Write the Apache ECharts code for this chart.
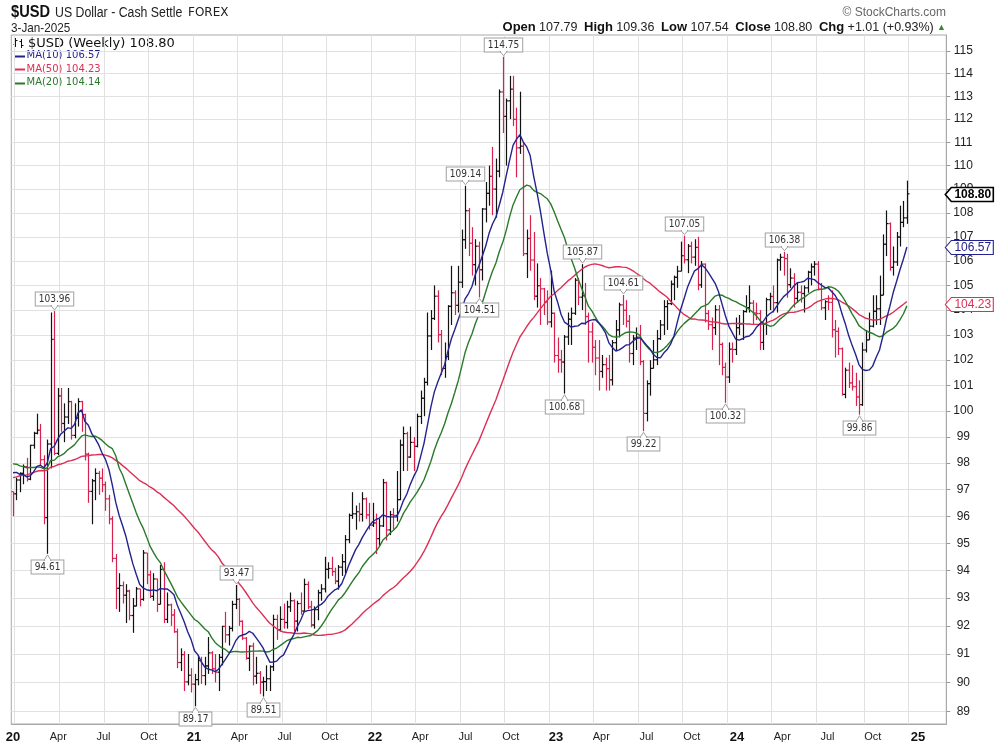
<!DOCTYPE html>
<html>
<head>
<meta charset="utf-8">
<title>$USD Weekly</title>
<script src="https://cdn.jsdelivr.net/npm/echarts@6.0.0/dist/echarts.min.js"></script>
<style>
html,body{margin:0;padding:0;background:#ffffff;}
#chart{width:1000px;height:752px;}
</style>
</head>
<body>
<div id="chart"></div>
<script>
// ---------------- DATA ----------------
const firstWeekEnd = Date.UTC(2020, 0, 3);   // Friday of the first weekly bar
const futureSlots = 11;                        // empty weekly slots to the right of the last bar

// weekly closes of 2019 (needed only to warm up the moving averages at the left edge)
const priorCloses2019 = [95.82,95.58,96.63,96.91,96.48,96.51,97.31,96.59,96.63,97.28,97.37,96.95,97.40,98.02,97.51,97.34,98.00,97.61,97.75,96.53,97.57,96.22,96.13,97.29,96.80,97.10,97.93,98.05,97.51,98.15,97.66,98.87,98.40,98.26,98.53,99.13,98.80,98.31,97.28,97.83,97.24,98.36,97.97,98.25,98.27,97.67,97.18,97.66,96.92];

const weekHigh = [
 96.9,97.45,97.65,97.95,98.2,98.7,99.2,99.9,99.5,98.3,98.9,103.9,103.96,100.9,100.9,100.3,100.9,100.4,100.3,100.5,100.4,99.9,98.4,97.4,97.8,97.7,97.8,97.3,96.8,96.0,94.6,93.9,93.6,93.5,93.3,93.0,93.4,93.3,94.75,94.6,94.0,93.9,93.7,94.2,94.3,93.2,92.8,92.6,91.9,91.2,91.1,91.0,90.5,
 90.3,90.95,90.9,90.9,91.6,91.1,91.0,91.0,92.0,92.5,92.0,92.9,93.47,93.0,92.2,91.6,91.3,91.4,90.9,90.4,90.2,90.6,90.6,92.4,92.4,92.7,92.8,92.9,93.2,92.95,92.9,93.2,93.7,93.6,92.9,92.7,93.3,93.5,94.5,94.3,94.5,94.1,94.2,94.6,95.3,96.1,96.9,96.4,96.5,96.9,96.7,96.5,
 96.5,96.1,95.9,97.4,97.3,96.2,96.3,97.7,98.9,99.4,99.2,99.4,99.0,99.9,100.8,101.3,103.9,104.0,105.0,104.8,103.2,102.7,104.2,105.8,104.8,105.8,107.3,109.14,108.2,107.4,106.9,106.8,108.2,109.3,110.0,110.8,110.3,113.3,114.75,112.9,113.9,113.9,112.5,113.2,111.0,107.3,107.9,107.2,105.9,105.3,104.9,104.8,
 105.6,103.9,102.9,102.4,103.0,103.9,104.1,105.3,105.3,105.87,105.1,103.9,103.5,102.8,102.8,102.2,102.1,102.2,102.8,103.6,104.3,104.61,104.4,103.8,103.0,103.3,103.4,102.0,101.2,102.0,102.8,103.2,103.6,104.4,104.4,105.2,105.4,105.8,106.8,107.05,106.7,106.8,106.9,107.0,106.0,105.9,104.0,103.7,104.2,104.2,102.7,101.9,
 102.7,102.7,103.7,103.8,104.0,104.6,105.0,104.4,104.3,104.0,103.5,104.5,104.7,105.0,106.1,106.3,106.38,106.3,105.7,105.5,105.1,105.0,105.0,105.6,105.9,106.0,106.0,105.1,104.4,104.6,104.8,103.6,103.3,102.5,101.7,101.9,101.8,101.5,101.2,102.7,103.2,103.9,104.6,104.6,105.4,107.1,108.1,107.6,106.6,107.2,108.3,108.5,
 109.36
];
const weekLow = [
 96.0,96.6,96.9,97.2,97.3,97.35,98.55,99.1,97.9,95.7,94.61,97.8,98.3,98.3,99.2,98.8,99.5,98.9,98.95,99.4,99.2,98.1,96.5,95.7,96.6,96.8,96.9,96.2,95.7,94.3,92.6,92.5,92.8,92.1,92.2,91.75,92.7,92.7,92.9,93.5,93.0,92.9,92.5,92.8,92.1,92.1,92.0,91.75,90.5,90.4,89.7,89.9,89.65,
 89.17,89.9,89.95,89.9,90.3,90.3,90.0,89.7,90.6,91.4,91.3,91.8,92.6,92.0,91.5,90.8,90.4,89.9,89.95,89.6,89.51,89.7,89.7,90.4,91.5,91.8,91.9,91.9,92.5,91.8,91.8,92.4,92.5,92.6,91.95,91.9,92.2,92.9,93.2,93.7,93.8,93.5,93.3,93.8,93.9,95.0,95.9,95.5,95.8,95.8,95.9,95.5,
 95.6,94.6,94.9,95.6,95.1,95.3,95.5,95.8,96.6,97.7,97.7,98.2,97.7,98.6,99.5,99.8,101.0,102.4,103.6,102.7,101.4,101.3,102.0,103.4,103.8,103.9,104.9,106.5,106.2,105.4,105.0,104.51,105.2,107.6,108.3,107.9,107.8,109.5,111.4,110.0,112.0,111.7,109.5,110.5,106.2,105.3,105.6,104.4,104.1,103.4,103.8,103.4,
 103.3,101.9,101.5,101.5,100.68,102.6,102.6,103.8,104.2,104.0,103.4,101.9,101.9,101.4,100.8,101.3,100.8,100.8,101.0,102.4,102.9,103.4,103.3,101.9,101.8,102.4,101.8,99.22,99.6,100.6,101.7,101.8,102.8,103.0,103.2,104.2,104.4,104.9,105.6,105.9,105.5,105.9,105.8,104.8,104.9,103.5,103.2,102.4,103.0,101.8,101.4,100.32,
 101.1,101.9,102.2,103.0,102.8,103.9,103.9,103.4,103.6,102.4,102.4,103.0,104.0,103.9,103.9,105.6,105.4,104.5,104.9,104.1,104.3,104.3,103.9,104.7,105.0,105.4,104.8,104.0,103.6,104.0,102.9,102.1,102.2,100.6,100.5,100.9,100.8,100.2,99.86,100.2,102.3,102.8,103.3,103.4,103.4,104.9,106.2,105.6,105.4,105.8,106.6,107.4,
 107.54
];
const weekClose = [
 96.84,97.36,97.61,97.87,97.39,98.68,99.14,99.26,98.13,95.95,98.73,102.82,98.37,100.59,99.52,99.77,100.37,99.06,99.73,100.37,99.86,98.34,96.93,97.33,97.61,97.43,97.18,96.65,95.90,94.44,93.35,93.45,93.10,93.25,92.37,92.71,93.33,92.95,94.64,93.84,93.06,93.69,92.77,94.04,92.23,92.75,92.39,91.79,90.70,90.98,90.02,90.25,89.94,
 90.10,90.77,90.24,90.58,91.04,90.48,90.36,90.88,91.98,91.68,91.91,92.77,92.95,92.16,91.56,90.85,91.28,90.22,90.32,90.01,90.03,90.13,90.55,92.23,91.86,92.23,92.12,92.68,92.90,92.17,92.80,92.53,93.49,92.68,92.03,92.58,93.19,93.33,94.04,94.07,93.96,93.61,94.12,94.32,95.13,96.03,96.09,96.17,96.07,96.65,96.05,95.67,
 95.75,95.17,95.64,97.26,95.49,96.06,96.03,96.62,98.69,99.13,98.23,98.79,98.64,99.79,100.50,101.12,102.96,103.66,104.56,103.01,101.67,102.14,104.15,104.70,104.19,105.13,106.88,108.09,106.73,105.85,106.61,105.64,108.16,108.82,109.54,109.00,109.76,113.19,112.12,112.80,113.31,111.99,110.76,110.83,106.30,106.93,106.04,104.56,104.99,104.86,104.33,103.52,
 103.87,102.18,102.01,101.92,102.92,103.63,103.87,105.21,104.52,104.58,103.74,103.12,102.51,102.08,101.55,101.82,101.66,101.22,102.69,103.20,104.21,103.99,103.55,102.26,102.87,102.91,101.94,99.91,101.07,101.67,102.01,102.85,103.40,104.14,104.26,105.05,105.33,105.58,106.22,106.05,106.61,106.16,106.56,105.02,105.87,103.86,103.41,103.29,104.01,102.62,101.71,101.33,
 102.43,102.42,103.29,103.44,103.94,104.10,104.28,103.88,103.86,102.70,103.44,104.42,104.55,104.30,106.04,106.15,106.10,105.03,105.30,104.47,104.72,104.67,104.90,105.54,105.76,105.87,104.85,104.09,104.34,104.31,103.21,103.14,102.45,100.65,101.60,101.10,100.95,100.55,100.25,102.40,102.80,103.35,103.95,104.05,104.60,106.69,107.55,105.74,105.96,106.99,107.60,107.79,
 108.80
];

// labelled highs / lows (bar index, value, side)
const annotations = [
  {i: 12,  v: 103.96, side: 'up'},
  {i: 10,  v: 94.61,  side: 'down'},
  {i: 65,  v: 93.47,  side: 'up'},
  {i: 53,  v: 89.17,  side: 'down'},
  {i: 73,  v: 89.51,  side: 'down'},
  {i: 143, v: 114.75, side: 'up'},
  {i: 132, v: 109.14, side: 'up'},
  {i: 136, v: 104.51, side: 'down'},
  {i: 166, v: 105.87, side: 'up'},
  {i: 161, v: 100.68, side: 'down'},
  {i: 178, v: 104.61, side: 'up'},
  {i: 184, v: 99.22,  side: 'down'},
  {i: 196, v: 107.05, side: 'up'},
  {i: 208, v: 100.32, side: 'down'},
  {i: 225, v: 106.38, side: 'up'},
  {i: 247, v: 99.86,  side: 'down'}
];

// last-value tags on the price axis
const lastTagValues = [108.80, 106.57, 104.23];
const lastTagNames  = ['price', 'ma10', 'ma50'];

// legend values shown in the top-left box
const legendPrice = '108.80';
const legendMA = [
  {label: 'MA(10)', value: '106.57', key: 'ma10'},
  {label: 'MA(50)', value: '104.23', key: 'ma50'},
  {label: 'MA(20)', value: '104.14', key: 'ma20'}
];

const yTicks = [89,90,91,92,93,94,95,96,97,98,99,100,101,102,103,104,105,106,107,108,109,110,111,112,113,114,115];
const quarterLabels = ['20','Apr','Jul','Oct','21','Apr','Jul','Oct','22','Apr','Jul','Oct','23','Apr','Jul','Oct','24','Apr','Jul','Oct','25'];

// ---------------- STYLE ----------------
const COLORS = {
  up: '#111111', down: '#d9214f',
  ma10: '#23238e', ma50: '#dc2f55', ma20: '#2a7a2a',
  grid: '#e1e1e1', border: '#a9a9a9', text: '#222222'
};
const SANS = '"Liberation Sans",Arial,sans-serif';
const NOTE_FONT = '10px "DejaVu Sans Condensed","DejaVu Sans",sans-serif';

// ---------------- DERIVED ----------------
const DAY = 86400000;
const nBars = weekClose.length;
const categories = [];
for (let i = 0; i < nBars + futureSlots; i++) {
  categories.push(new Date(firstWeekEnd + i * 7 * DAY).toISOString().slice(0, 10));
}
function mondayMonth(i) { return new Date(firstWeekEnd + i * 7 * DAY - 4 * DAY).getUTCMonth(); }
function isQuarterStart(i) {
  if (i <= 0) return false;
  const m = mondayMonth(i), pm = mondayMonth(i - 1);
  return m !== pm && m % 3 === 0;
}

// weekly open equals the previous weekly close (forex: Open 107.79 = prior close)
const lastPrior = priorCloses2019[priorCloses2019.length - 1];
const ohlc = weekClose.map((c, i) => {
  const o = i === 0 ? lastPrior : weekClose[i - 1];
  const h = Math.max(weekHigh[i], o, c);
  const l = Math.min(weekLow[i], o, c);
  return [i, o, h, l, c, c >= o ? 1 : 0];
});

function sma(n) {
  const all = priorCloses2019.concat(weekClose);
  const off = priorCloses2019.length;
  return weekClose.map((_, i) => {
    const end = off + i, start = end - n + 1;
    if (start < 0) return null;
    let s = 0;
    for (let k = start; k <= end; k++) s += all[k];
    return +(s / n).toFixed(3);
  });
}
const ma10 = sma(10), ma20 = sma(20), ma50 = sma(50);

// ---------------- RENDERERS ----------------
function renderBar(params, api) {
  const i = api.value(0);
  const pO = api.coord([i, api.value(1)]);
  const pH = api.coord([i, api.value(2)]);
  const pL = api.coord([i, api.value(3)]);
  const pC = api.coord([i, api.value(4)]);
  const color = api.value(5) ? COLORS.up : COLORS.down;
  const x = Math.round(pH[0]) + 0.5;
  const st = {stroke: color, lineWidth: 1.2};
  return {
    type: 'group',
    children: [
      {type: 'line', shape: {x1: x, y1: pH[1], x2: x, y2: pL[1]}, style: st},
      {type: 'line', shape: {x1: x - 2, y1: pO[1], x2: x, y2: pO[1]}, style: st},
      {type: 'line', shape: {x1: x, y1: pC[1], x2: x + 2, y2: pC[1]}, style: st}
    ]
  };
}

function renderNote(params, api) {
  const a = annotations[params.dataIndex];
  const p = api.coord([a.i, a.v]);
  const x = Math.round(p[0]) + 0.5;
  const gap = 6, h = 13;
  const up = a.side === 'up';
  const edge = up ? Math.round(p[1] - gap) + 0.5 : Math.round(p[1] + gap) + 0.5;
  const cy = up ? edge - h / 2 : edge + h / 2;
  const tip = up ? p[1] - 1 : p[1] + 1;
  return {
    type: 'group',
    children: [
      {type: 'text', x: x, y: cy, style: {
        text: a.v.toFixed(2), font: NOTE_FONT, fill: '#333',
        align: 'center', verticalAlign: 'middle',
        backgroundColor: '#ffffff', borderColor: '#a0a0a0', borderWidth: 1,
        padding: [2, 3, 1, 3]
      }},
      {type: 'polygon', shape: {points: [[x - 3.5, edge], [x, tip], [x + 3.5, edge]]},
        style: {fill: '#ffffff', stroke: '#a0a0a0', lineWidth: 1}},
      {type: 'line', shape: {x1: x - 2.5, y1: edge, x2: x + 2.5, y2: edge},
        style: {stroke: '#ffffff', lineWidth: 1.5}}
    ]
  };
}

function renderTag(params, api) {
  const v = lastTagValues[params.dataIndex];
  const name = lastTagNames[params.dataIndex];
  const p = api.coord([nBars - 1, v]);
  const ax = params.coordSys.x + params.coordSys.width;
  const y = Math.round(p[1]) + 0.5;
  const color = name === 'price' ? '#000000' : COLORS[name];
  const bold = name === 'price';
  const x0 = ax - 1, x1 = ax + 5, x2 = ax + 47, hh = 7;
  return {
    type: 'group',
    children: [
      {type: 'polygon', shape: {points: [[x0, y], [x1, y - hh], [x2, y - hh], [x2, y + hh], [x1, y + hh]]},
        style: {fill: '#ffffff', stroke: color, lineWidth: bold ? 1.6 : 1.1}},
      {type: 'text', x: (x1 + x2) / 2 + 0.5, y: y + 0.5, style: {
        text: v.toFixed(2), fill: color,
        font: (bold ? 'bold ' : '') + '12px ' + SANS,
        align: 'center', verticalAlign: 'middle'
      }}
    ]
  };
}

// ---------------- CHART ----------------
const chart = echarts.init(document.getElementById('chart'), null, {renderer: 'canvas'});

const legendChildren = [
  // small OHLC glyph
  {type: 'line', shape: {x1: 15.5, y1: 38, x2: 15.5, y2: 47}, style: {stroke: '#111', lineWidth: 1}},
  {type: 'line', shape: {x1: 13.5, y1: 44.5, x2: 15.5, y2: 44.5}, style: {stroke: '#111', lineWidth: 1}},
  {type: 'line', shape: {x1: 15.5, y1: 40.5, x2: 17.5, y2: 40.5}, style: {stroke: '#111', lineWidth: 1}},
  {type: 'line', shape: {x1: 21.5, y1: 39, x2: 21.5, y2: 48}, style: {stroke: '#111', lineWidth: 1}},
  {type: 'line', shape: {x1: 19.5, y1: 41.5, x2: 21.5, y2: 41.5}, style: {stroke: '#111', lineWidth: 1}},
  {type: 'line', shape: {x1: 21.5, y1: 45.5, x2: 23.5, y2: 45.5}, style: {stroke: '#111', lineWidth: 1}},
  {type: 'text', x: 28, y: 43.5, style: {text: '$USD (Weekly) ' + legendPrice, font: '13px "DejaVu Sans",sans-serif', fill: '#111', verticalAlign: 'middle'}}
];
legendMA.forEach((m, k) => {
  const y = 55.5 + k * 13.5;
  legendChildren.push({type: 'line', shape: {x1: 14, y1: Math.round(y) + 0.5, x2: 25, y2: Math.round(y) + 0.5}, style: {stroke: COLORS[m.key], lineWidth: 2}});
  legendChildren.push({type: 'text', x: 26.5, y: y, style: {text: m.label + ' ' + m.value, font: '10px "DejaVu Sans",sans-serif', fill: COLORS[m.key], verticalAlign: 'middle'}});
});

const option = {
  animation: false,
  backgroundColor: '#ffffff',
  grid: [
    {left: 11.3, right: 53.7, top: 35, bottom: 28, show: true, borderColor: COLORS.border, borderWidth: 1, backgroundColor: 'transparent'},
    {left: 13, right: 82, top: 35, bottom: 28, show: false}
  ],
  xAxis: [
    {
      type: 'category', gridIndex: 0, data: categories, boundaryGap: true,
      axisLine: {show: true, lineStyle: {color: COLORS.border}},
      axisTick: {show: false},
      axisLabel: {show: false},
      splitLine: {show: true, interval: (idx) => isQuarterStart(idx), lineStyle: {color: COLORS.grid, width: 1}}
    },
    {
      type: 'value', gridIndex: 1, min: 0, max: 20, interval: 1, position: 'bottom',
      axisLine: {show: false}, axisTick: {show: false}, splitLine: {show: false},
      axisLabel: {
        show: true, margin: 7, color: COLORS.text, fontSize: 11, fontFamily: SANS,
        formatter: (v) => {
          const s = quarterLabels[Math.round(v)];
          if (s === undefined) return '';
          return /^\d/.test(s) ? '{yr|' + s + '}' : s;
        },
        rich: {yr: {fontWeight: 'bold', fontSize: 13, fontFamily: SANS, color: '#111'}}
      }
    }
  ],
  yAxis: [
    {
      type: 'log', logBase: 10, gridIndex: 0, position: 'right', min: 88.56, max: 115.72,
      axisLine: {show: true, lineStyle: {color: COLORS.border}},
      axisTick: {show: true, length: 4, lineStyle: {color: '#9a9a9a'}, customValues: yTicks},
      axisLabel: {show: true, customValues: yTicks, margin: 17, align: 'center', color: COLORS.text, fontSize: 12, fontFamily: SANS,
        formatter: (v) => String(Math.round(v))},
      splitLine: {show: true, lineStyle: {color: COLORS.grid, width: 1}},
      minorTick: {show: false}, minorSplitLine: {show: false}
    },
    {type: 'value', gridIndex: 1, show: false, min: 0, max: 1}
  ],
  graphic: [
    {type: 'text', x: 11, y: 12.5, scaleX: 0.86, style: {text: '$USD', font: 'bold 17px ' + SANS, fill: '#111', verticalAlign: 'middle'}},
    {type: 'text', x: 55, y: 13, scaleX: 0.88, style: {text: 'US Dollar - Cash Settle', font: '14px ' + SANS, fill: '#222', verticalAlign: 'middle'}},
    {type: 'text', x: 188, y: 13, style: {text: 'FOREX', font: '12px "DejaVu Sans",sans-serif', fill: '#222', verticalAlign: 'middle'}},
    {type: 'text', x: 11, y: 28, scaleX: 0.9, style: {text: '3-Jan-2025', font: '13px ' + SANS, fill: '#222', verticalAlign: 'middle'}},
    {type: 'text', x: 946, y: 12.5, style: {text: '\u00A9 StockCharts.com', font: '12px ' + SANS, fill: '#666', align: 'right', verticalAlign: 'middle'}},
    {type: 'text', x: 946, y: 27.5, style: {
      text: '{b|Open} {n|107.79}  {b|High} {n|109.36}  {b|Low} {n|107.54}  {b|Close} {n|108.80}  {b|Chg} {n|+1.01 (+0.93%)} {g|\u25B2}',
      align: 'right', verticalAlign: 'middle',
      rich: {
        b: {font: 'bold 13px ' + SANS, fill: '#111'},
        n: {font: '12.5px ' + SANS, fill: '#222'},
        g: {font: '9px ' + SANS, fill: '#2e8b2e'}
      }
    }},
    {type: 'group', children: legendChildren}
  ],
  series: [
    {
      name: '$USD', type: 'custom', xAxisIndex: 0, yAxisIndex: 0,
      renderItem: renderBar, data: ohlc, encode: {x: 0, y: [1, 2, 3, 4]}, z: 2, silent: true
    },
    {name: 'MA(50)', type: 'line', xAxisIndex: 0, yAxisIndex: 0, data: ma50, showSymbol: false, symbol: 'none', smooth: false,
      lineStyle: {color: COLORS.ma50, width: 1.4}, z: 3, silent: true},
    {name: 'MA(20)', type: 'line', xAxisIndex: 0, yAxisIndex: 0, data: ma20, showSymbol: false, symbol: 'none', smooth: false,
      lineStyle: {color: COLORS.ma20, width: 1.4}, z: 3, silent: true},
    {name: 'MA(10)', type: 'line', xAxisIndex: 0, yAxisIndex: 0, data: ma10, showSymbol: false, symbol: 'none', smooth: false,
      lineStyle: {color: COLORS.ma10, width: 1.4}, z: 3, silent: true},
    {
      name: 'labels', type: 'custom', xAxisIndex: 0, yAxisIndex: 0, renderItem: renderNote,
      data: annotations.map(a => [a.i, a.v]), encode: {x: 0, y: 1}, z: 5, clip: false, silent: true
    },
    {
      name: 'tags', type: 'custom', xAxisIndex: 0, yAxisIndex: 0, renderItem: renderTag,
      data: lastTagValues.map(v => [nBars - 1, v]), encode: {x: 0, y: 1}, z: 6, clip: false, silent: true
    }
  ]
};
chart.setOption(option);
</script>
</body>
</html>
